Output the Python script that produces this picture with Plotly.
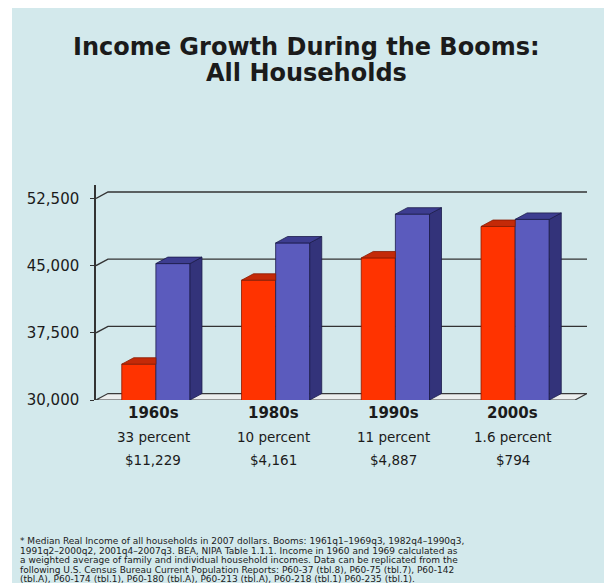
import plotly.graph_objects as go

# ---------------- data ----------------
decades = ["1960s", "1980s", "1990s", "2000s"]
start_income = [34000, 43370, 45860, 49370]      # red bars (start of boom)
end_income = [45229, 47531, 50747, 50164]         # blue bars (end of boom)
percent_labels = ["33 percent", "10 percent", "11 percent", "1.6 percent"]
dollar_labels = ["$11,229", "$4,161", "$4,887", "$794"]
y_ticks = [30000, 37500, 45000, 52500]
y_ticktext = ["30,000", "37,500", "45,000", "52,500"]

title_lines = ["Income Growth During the Booms:", "All Households"]
footnote_lines = [
    "* Median Real Income of all households in 2007 dollars. Booms: 1961q1\u20131969q3, 1982q4\u20131990q3,",
    "1991q2\u20132000q2, 2001q4\u20132007q3. BEA, NIPA Table 1.1.1. Income in 1960 and 1969 calculated as",
    "a weighted average of family and individual household incomes. Data can be replicated from the",
    "following U.S. Census Bureau Current Population Reports: P60-37 (tbl.8), P60-75 (tbl.7), P60-142",
    "(tbl.A), P60-174 (tbl.1), P60-180 (tbl.A), P60-213 (tbl.A), P60-218 (tbl.1) P60-235 (tbl.1).",
]

# ---------------- style ----------------
OFF = 8                      # browser body margin
PAGE_W, PAGE_H = 612, 583
W, H = PAGE_W - OFF, PAGE_H - OFF
# plot area in page pixels
PL, PR, PT, PB = 96, 587, 185, 400
ML, MR, MT, MB = PL - OFF, W - (PR - OFF), PT - OFF, H - (PB - OFF)
PW, PH = PR - PL, PB - PT
Y0 = 30000
YMAX = 54000
BAR_W = 0.285
DX = 0.1          # 3-D depth in x (category units)
DY = 720          # 3-D depth in y (value units)
BG = "#d3e9ec"
RED, RED_TOP, RED_LINE = "#ff3300", "#c42a08", "#8a1a00"
BLUE, BLUE_TOP, BLUE_SIDE, BLUE_LINE = "#5b5bbd", "#3d3d90", "#33337a", "#1c1c4a"
FONT = "DejaVu Sans"


def px(xp):
    """page x pixel -> paper coordinate"""
    return (xp - PL) / PW


def py(yp):
    """page y pixel -> paper coordinate"""
    return (PB - yp) / PH


xs = list(range(len(decades)))

fig = go.Figure()

# front faces of bars
fig.add_trace(go.Bar(x=xs, y=start_income, width=BAR_W, offset=-BAR_W,
                     marker=dict(color=RED, line=dict(color=RED_LINE, width=0.8)),
                     name="start", showlegend=False))
fig.add_trace(go.Bar(x=xs, y=end_income, width=BAR_W, offset=0,
                     marker=dict(color=BLUE, line=dict(color=BLUE_LINE, width=0.8)),
                     name="end", showlegend=False))


def polys(pts_list):
    X, Y = [], []
    for pts in pts_list:
        for (a, b) in pts:
            X.append(a)
            Y.append(b)
        X.append(pts[0][0]); Y.append(pts[0][1])
        X.append(None); Y.append(None)
    return X, Y


# red top faces (cut where the blue bar in front begins)
red_tops = []
for i, v in zip(xs, start_income):
    xl, xr = i - BAR_W, i
    red_tops.append([(xl, v), (xl + DX, v + DY), (xr, v + DY), (xr, v)])
X, Y = polys(red_tops)
fig.add_trace(go.Scatter(x=X, y=Y, mode="lines", fill="toself", fillcolor=RED_TOP,
                         line=dict(color=RED_LINE, width=0.8), hoverinfo="skip", showlegend=False))

# blue side + top faces
blue_sides, blue_tops = [], []
for i, v in zip(xs, end_income):
    xl, xr = i, i + BAR_W
    blue_sides.append([(xr, Y0), (xr + DX, Y0 + DY), (xr + DX, v + DY), (xr, v)])
    blue_tops.append([(xl, v), (xl + DX, v + DY), (xr + DX, v + DY), (xr, v)])
X, Y = polys(blue_sides)
fig.add_trace(go.Scatter(x=X, y=Y, mode="lines", fill="toself", fillcolor=BLUE_SIDE,
                         line=dict(color=BLUE_LINE, width=0.8), hoverinfo="skip", showlegend=False))
X, Y = polys(blue_tops)
fig.add_trace(go.Scatter(x=X, y=Y, mode="lines", fill="toself", fillcolor=BLUE_TOP,
                         line=dict(color=BLUE_LINE, width=0.8), hoverinfo="skip", showlegend=False))

shapes = []
# panel background
shapes.append(dict(type="rect", xref="paper", yref="paper", x0=px(12), x1=px(PAGE_W + 2),
                   y0=py(PAGE_H + 2), y1=py(7), fillcolor=BG, line=dict(width=0), layer="below"))
# back-wall gridlines with diagonal connectors
xmin, xmax = -0.5, len(decades) - 0.5
for t in y_ticks[1:]:
    shapes.append(dict(type="path", xref="x", yref="y", layer="below",
                       path=f"M {xmin},{t} L {xmin + DX},{t + DY} L {xmax + DX},{t + DY}",
                       line=dict(color="#333333", width=1.4)))
# floor
shapes.append(dict(type="path", xref="x", yref="y", layer="below",
                   path=f"M {xmin},{Y0} L {xmax},{Y0} L {xmax + DX},{Y0 + DY} L {xmin + DX},{Y0 + DY} Z",
                   fillcolor="#eceeee", line=dict(color="#3a3a3a", width=1.2)))

annotations = []
title_y = [47, 73]
for t, yy in zip(title_lines, title_y):
    annotations.append(dict(text=f"<b>{t}</b>", x=px(306), y=py(yy), xref="paper", yref="paper",
                            showarrow=False, xanchor="center", yanchor="middle",
                            font=dict(family=FONT, size=24, color="#1b1b1b")))
for i, d, p, s in zip(xs, decades, percent_labels, dollar_labels):
    annotations.append(dict(text=f"<b>{d}</b>", x=i - 0.02, y=py(413), xref="x", yref="paper",
                            showarrow=False, yanchor="middle",
                            font=dict(family=FONT, size=15, color="#1b1b1b")))
    annotations.append(dict(text=p, x=i - 0.02, y=py(437), xref="x", yref="paper",
                            showarrow=False, yanchor="middle",
                            font=dict(family=FONT, size=13.5, color="#1b1b1b")))
    annotations.append(dict(text=s, x=i - 0.02, y=py(460), xref="x", yref="paper",
                            showarrow=False, yanchor="middle",
                            font=dict(family=FONT, size=13.5, color="#1b1b1b")))
for k, line in enumerate(footnote_lines):
    annotations.append(dict(text=line, x=px(18), y=py(541 + 9.5 * k), xref="paper", yref="paper",
                            showarrow=False, xanchor="left", yanchor="middle",
                            font=dict(family=FONT, size=9, color="#1b1b1b")))

fig.update_layout(
    width=W, height=H,
    margin=dict(l=ML, r=MR, t=MT, b=MB, pad=0),
    paper_bgcolor="white", plot_bgcolor="rgba(0,0,0,0)",
    barmode="overlay",
    shapes=shapes, annotations=annotations,
    xaxis=dict(range=[xmin, xmax + DX], showgrid=False, zeroline=False, showline=False,
               showticklabels=False, fixedrange=True),
    yaxis=dict(range=[Y0, YMAX], tickvals=y_ticks, ticktext=y_ticktext, showgrid=False,
               zeroline=False, showline=True, linecolor="#333333", linewidth=1.5,
               ticks="outside", ticklen=4, tickcolor="#333333", ticklabelstandoff=8,
               tickfont=dict(family=FONT, size=15, color="#1b1b1b"), fixedrange=True),
    showlegend=False,
)

fig.write_html("out.html")
